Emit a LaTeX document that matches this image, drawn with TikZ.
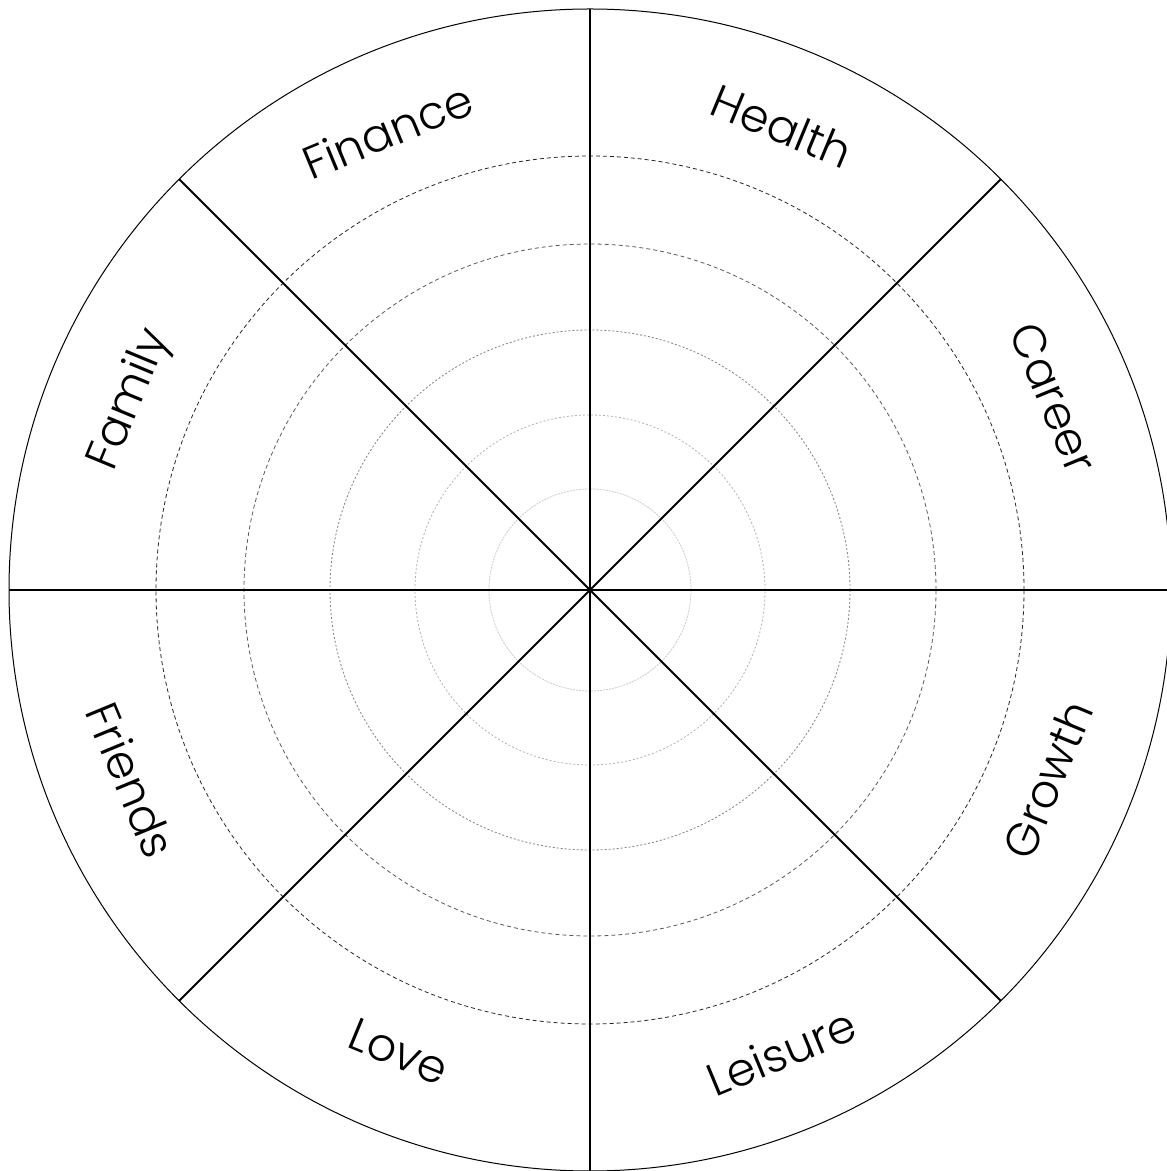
\documentclass[tikz,border=0pt]{standalone}
\usepackage{fontspec}
\setmainfont{Poppins Light}
\usetikzlibrary{calc}
\begin{document}
\begin{tikzpicture}[x=1pt,y=1pt,
  ring/.style={line width=0.8pt,dash pattern=on 4pt off 3pt},
  spoke/.style={line width=1.8pt},
  lbl/.style={font=\fontsize{46}{52}\selectfont,inner sep=0pt}]
\useasboundingbox (0,0) rectangle (1167,1171);
\coordinate (c) at (590,581);
\draw[line width=1pt] (c) circle (581);
\draw[ring,black!85] (c) circle (434);
\draw[ring,black!65] (c) circle (346);
\draw[ring,black!50,dash pattern=on 2pt off 2pt] (c) circle (260);
\draw[ring,black!30,dash pattern=on 2pt off 2pt] (c) circle (175);
\draw[ring,black!20,dash pattern=on 2pt off 1pt] (c) circle (101);
\foreach \a in {0,45,90,135}{
  \draw[spoke] ($(c)+(\a:581)$) -- ($(c)+(\a+180:581)$);
}
\node[lbl,rotate=-22.5] (health) at ($(c)+(67.5:502)$) {Health};
\node[lbl,rotate=22.5] (finance) at ($(c)+(113.8:502)$) {Finance};
\node[lbl,rotate=67.5] (family) at ($(c)+(157.5:497)$) {Family};
\node[lbl,rotate=-67.5] (friends) at ($(c)+(-157.5:497)$) {Friends};
\node[lbl,rotate=-22.5] (love) at ($(c)+(-112.5:500)$) {Love};
\node[lbl,rotate=22.5] (leisure) at ($(c)+(-67.5:500)$) {Leisure};
\node[lbl,rotate=67.5] (growth) at ($(c)+(-22.5:495)$) {Growth};
\node[lbl,rotate=-67.5] (career) at ($(c)+(22.5:502)$) {Career};
\end{tikzpicture}
\end{document}
